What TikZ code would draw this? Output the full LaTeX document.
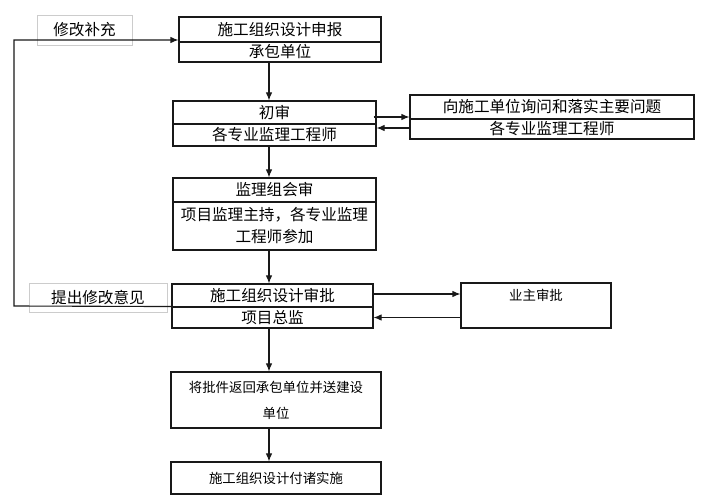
\documentclass[tikz,border=0pt]{standalone}
\usepackage{fontspec}
\setmainfont{Noto Sans CJK SC}
\usetikzlibrary{arrows.meta}
\begin{document}
\begin{tikzpicture}[x=1pt,y=-1pt,
    box/.style={draw=black!90,line width=1.1pt,inner sep=0pt,font=\fontsize{15.6}{22}\selectfont},
    note/.style={draw=black!20,line width=0.6pt,inner sep=0pt,font=\fontsize{15.6}{17}\selectfont},
    small/.style={font=\fontsize{13.4}{26}\selectfont},
    link/.style={line width=1.1pt,draw=black!90,-{Latex[length=8pt,width=6.5pt]}}]
            \useasboundingbox (0,0) rectangle (713,502);
            \coordinate (col) at (269,0);

            % main column
            \node[box,minimum width=202,minimum height=25] (s1a) at (280,29.5) {施工组织设计申报};
            \node[box,minimum width=202,minimum height=20] (s1b) at (280,52) {承包单位};
            \node[box,minimum width=203,minimum height=23] (s2a) at (274.5,112.5) {初审};
            \node[box,minimum width=203,minimum height=22] (s2b) at (274.5,135) {各专业监理工程师};
            \node[box,minimum width=203,minimum height=24] (s4a) at (274.5,190) {监理组会审};
            \node[box,minimum width=203,minimum height=48,align=center] (s4b) at (274.5,226) {项目监理主持，各专业监理\\工程师参加};
            \node[box,minimum width=201,minimum height=23] (s5a) at (272.5,295.5) {施工组织设计审批};
            \node[box,minimum width=201,minimum height=21] (s5b) at (272.5,317.5) {项目总监};
            \node[box,small,minimum width=210,minimum height=56,align=center,
                  text width=190] (s7) at (276,400) {将批件返回承包单位并送建设\\单位};
            \node[box,small,minimum width=210,minimum height=32] (s8) at (276,478) {施工组织设计付诸实施};

            % side boxes
            \node[box,minimum width=284,minimum height=24] (r1a) at (552,107) {向施工单位询问和落实主要问题};
            \node[box,minimum width=284,minimum height=20] (r1b) at (552,129) {各专业监理工程师};
            \node[box,minimum width=150,minimum height=45,
                  label={[small,anchor=north,yshift=-3pt]north:{业主审批}}] (s6) at (536,305.5) {};

            % notes
            \node[note,minimum width=95,minimum height=30] (n1) at (84.5,30) {修改补充};
            \node[note,minimum width=138,minimum height=29] (n2) at (98,297.5) {提出修改意见};

            \draw[link] (s1b.south -| col) to (s2a.north -| col);
            \draw[link] (s2b.south -| col) to (s4a.north -| col);
            \draw[link] (s4b.south -| col) to (s5a.north -| col);
            \draw[link] (s5b.south -| col) to (s7.north -| col);
            \draw[link] (s7.south -| col) to (s8.north -| col);

            \draw[link] ([yshift=-4.5pt,xshift=-3pt]s2a.east) to ([yshift=-4.5pt]s2a.east -| r1a.west);
            \draw[link] ([yshift=7pt]s2b.east -| r1b.west) to ([yshift=7pt]s2b.east);
            \draw[link] ([xshift=-1pt,yshift=1.5pt]s5a.east) to ([yshift=1.5pt]s5a.east -| s6.west);
            \draw[link] (s5b.east -| s6.west) to (s5b.east);

            \coordinate (fb1) at (14,306);
            \coordinate (fb2) at (14,40);
            \draw[link] ([yshift=1pt]s5a.south west) -- (fb1) -- (fb2) -- (fb2 -| s1a.west);
        \end{tikzpicture}
\end{document}
